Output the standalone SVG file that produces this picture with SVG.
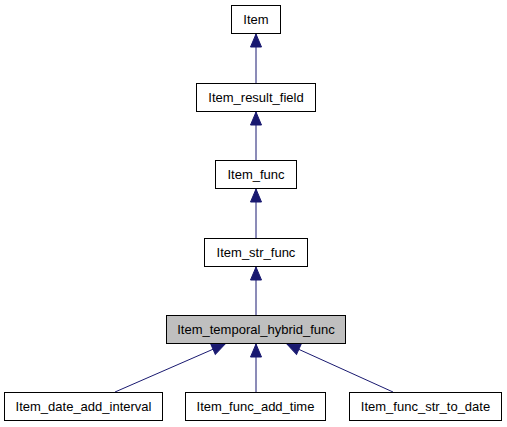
<svg xmlns="http://www.w3.org/2000/svg" width="507" height="427" viewBox="0 0 507 427">
<style>
.box{fill:#ffffff;stroke:#000000;stroke-width:1}
.hl{fill:#bfbfbf;stroke:#000000;stroke-width:1}
.lbl{font-family:"Liberation Sans",Arial,Helvetica,sans-serif;font-size:13px;fill:#000000;text-anchor:middle}
.edge{fill:none;stroke:#191970;stroke-width:1;marker-end:url(#arr)}
</style>
<defs>
<marker id="arr" markerUnits="userSpaceOnUse" markerWidth="16" markerHeight="14" viewBox="-1 -7 16 14" refX="13" refY="0" orient="auto">
<path d="M0,-5.5 L13,0 L0,5.5 Z" fill="#191970" stroke="#191970" stroke-width="1"/>
</marker>
</defs>
<rect width="507" height="427" fill="#ffffff"/>
<g id="connectors">
<path class="edge" d="M256,83 L256,34"/>
<path class="edge" d="M256,160 L256,112"/>
<path class="edge" d="M256,238 L256,189"/>
<path class="edge" d="M256,315 L256,267"/>
<path class="edge" d="M256,392 L256,344"/>
<path class="edge" d="M115,392 L225,344"/>
<path class="edge" d="M393,392 L287,344"/>
</g>
<g id="node-Item">
<rect class="box" x="231.5" y="5.5" width="49" height="28"/>
<text class="lbl" x="256" y="24">Item</text>
</g>
<g id="node-Item_result_field">
<rect class="box" x="196.5" y="83.5" width="119" height="28"/>
<text class="lbl" x="256" y="102">Item_result_field</text>
</g>
<g id="node-Item_func">
<rect class="box" x="215.5" y="160.5" width="81" height="28"/>
<text class="lbl" x="256" y="179">Item_func</text>
</g>
<g id="node-Item_str_func">
<rect class="box" x="204.5" y="238.5" width="103" height="28"/>
<text class="lbl" x="256" y="257">Item_str_func</text>
</g>
<g id="node-Item_temporal_hybrid_func">
<rect class="hl" x="166.5" y="315.5" width="179" height="28"/>
<text class="lbl" x="256" y="334">Item_temporal_hybrid_func</text>
</g>
<g id="node-Item_date_add_interval">
<rect class="box" x="4.5" y="392.5" width="158" height="28"/>
<text class="lbl" x="83.5" y="411">Item_date_add_interval</text>
</g>
<g id="node-Item_func_add_time">
<rect class="box" x="185.5" y="392.5" width="140" height="28"/>
<text class="lbl" x="255.5" y="411">Item_func_add_time</text>
</g>
<g id="node-Item_func_str_to_date">
<rect class="box" x="349.5" y="392.5" width="152" height="28"/>
<text class="lbl" x="425.5" y="411">Item_func_str_to_date</text>
</g>
</svg>
